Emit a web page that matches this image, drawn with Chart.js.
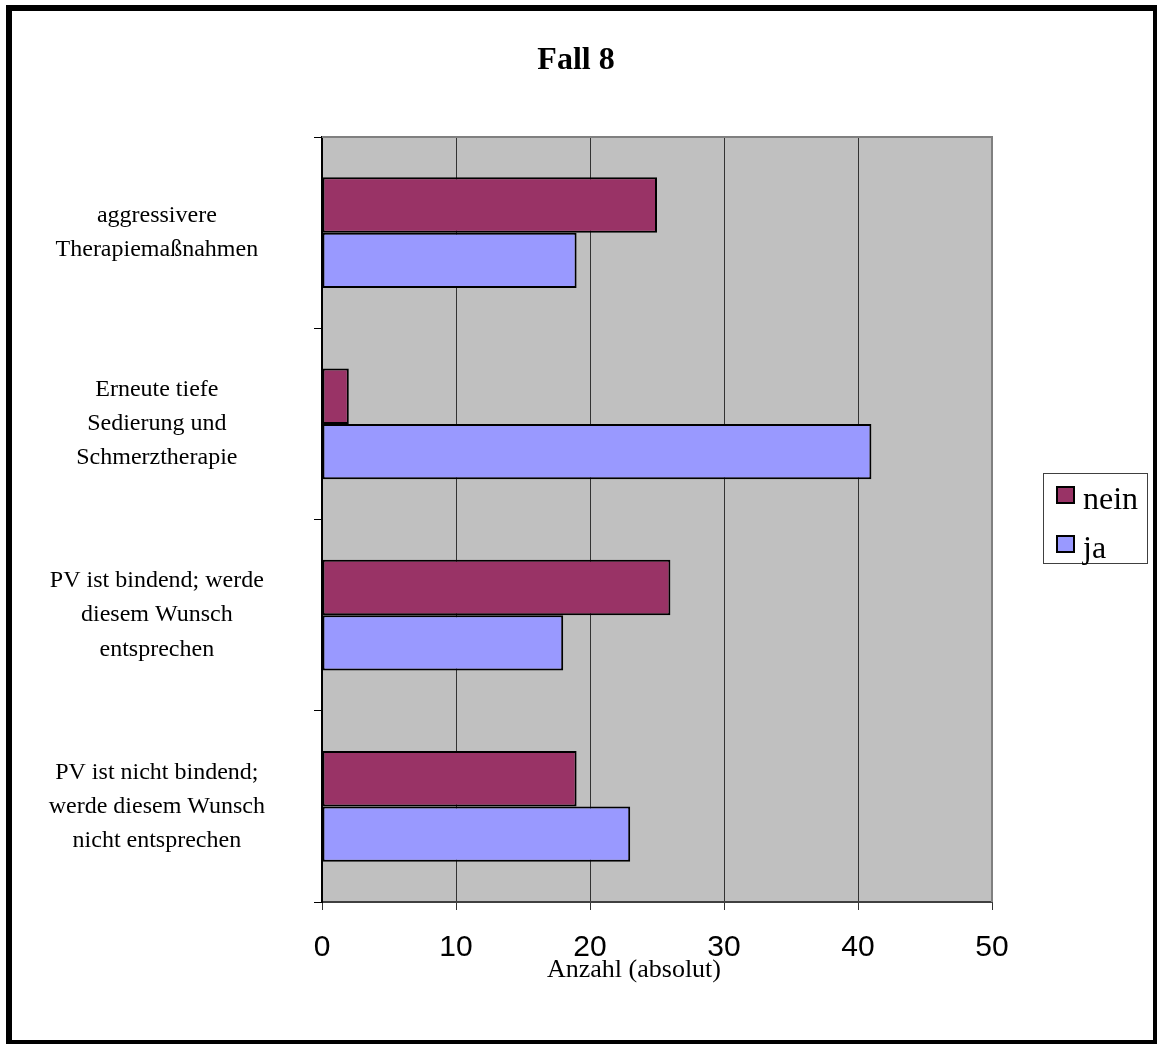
<!DOCTYPE html>
<html>
<head>
<meta charset="utf-8">
<title>Fall 8</title>
<script src="https://cdn.jsdelivr.net/npm/chart.js@4"></script>
<style>
  html, body { margin: 0; padding: 0; background: #ffffff; }
  canvas { display: block; }
</style>
</head>
<body>
<canvas id="chart" width="1157" height="1044"></canvas>
<script>
// Antwortkategorien (mehrzeilige Beschriftung)
const categories = [
  ['aggressivere', 'Therapiemaßnahmen'],
  ['Erneute tiefe', 'Sedierung und', 'Schmerztherapie'],
  ['PV ist bindend; werde', 'diesem Wunsch', 'entsprechen'],
  ['PV ist nicht bindend;', 'werde diesem Wunsch', 'nicht entsprechen']
];
const seriesNames = ['nein', 'ja'];
const neinValues = [25, 2, 26, 19];
const jaValues = [19, 41, 18, 23];
const xTickValues = [0, 10, 20, 30, 40, 50];
const chartTitle = 'Fall 8';
const xAxisTitle = 'Anzahl (absolut)';

const SERIF = '"Liberation Serif", "Times New Roman", serif';
const SANS = '"Liberation Sans", Arial, sans-serif';
const COLORS = { nein: '#993366', ja: '#9999FF' };

// Hintergrund, Rahmen, Titel, Achsentitel und Legende
const decorations = {
  id: 'decorations',
  beforeDraw(chart) {
    const { ctx, chartArea: a } = chart;
    ctx.save();
    ctx.fillStyle = '#ffffff';
    ctx.fillRect(0, 0, chart.width, chart.height);
    ctx.fillStyle = '#C0C0C0';
    ctx.fillRect(a.left, a.top, a.right - a.left, a.bottom - a.top);
    ctx.restore();
  },
  beforeDatasetsDraw(chart) {
    const { ctx, chartArea: a } = chart;
    ctx.save();
    ctx.strokeStyle = '#808080';
    ctx.lineWidth = 2;
    ctx.beginPath();
    ctx.moveTo(a.left, a.top);
    ctx.lineTo(a.right, a.top);
    ctx.lineTo(a.right, a.bottom);
    ctx.stroke();
    ctx.restore();
  },
  afterDraw(chart) {
    const { ctx } = chart;
    ctx.save();
    // äußerer Rahmen
    ctx.fillStyle = '#000000';
    ctx.fillRect(6, 5, 6, 1039);
    ctx.fillRect(6, 5, 1151, 6);
    ctx.fillRect(1153, 5, 4, 1039);
    ctx.fillRect(6, 1040, 1151, 4);

    // Titel
    ctx.fillStyle = '#000000';
    ctx.textAlign = 'center';
    ctx.textBaseline = 'alphabetic';
    ctx.font = 'bold 32px ' + SERIF;
    ctx.fillText(chartTitle, 576, 69);

    // Achsentitel
    ctx.font = '26px ' + SERIF;
    ctx.fillText(xAxisTitle, 634, 977);

    // Legende
    ctx.strokeStyle = '#404040';
    ctx.lineWidth = 1;
    ctx.strokeRect(1043.5, 473.5, 104, 90);
    ctx.textAlign = 'left';
    ctx.font = '32px ' + SERIF;
    const ds = chart.data.datasets;
    const rows = [495, 544];
    ds.forEach((d, i) => {
      const cy = rows[i];
      ctx.fillStyle = d.backgroundColor;
      ctx.fillRect(1057, cy - 8, 17, 16);
      ctx.strokeStyle = '#000000';
      ctx.lineWidth = 2;
      ctx.strokeRect(1057, cy - 8, 17, 16);
      ctx.fillStyle = '#000000';
      ctx.fillText(d.label, 1083, cy + 14);
    });
    ctx.restore();
  }
};

new Chart(document.getElementById('chart'), {
  type: 'bar',
  data: {
    labels: categories,
    datasets: [
      { label: seriesNames[0], data: neinValues, backgroundColor: COLORS.nein },
      { label: seriesNames[1], data: jaValues, backgroundColor: COLORS.ja }
    ]
  },
  options: {
    indexAxis: 'y',
    responsive: false,
    animation: false,
    devicePixelRatio: 1,
    layout: { padding: { left: 0, top: 137, right: 165, bottom: 0 } },
    datasets: {
      bar: {
        borderColor: '#000000',
        borderWidth: 2,
        borderSkipped: false,
        categoryPercentage: 0.58,
        barPercentage: 1
      }
    },
    plugins: {
      legend: { display: false },
      title: { display: false },
      tooltip: { enabled: false }
    },
    scales: {
      x: {
        min: 0,
        max: 50,
        afterBuildTicks(scale) {
          scale.ticks = xTickValues.map(v => ({ value: v }));
        },
        afterFit(scale) { scale.height = 142; },
        ticks: {
          color: '#000000',
          font: { family: SANS, size: 30 },
          padding: 20
        },
        grid: {
          color: '#333333',
          lineWidth: 1,
          tickLength: 8,
          tickColor: '#333333'
        },
        border: { display: true, color: '#404040', width: 2 }
      },
      y: {
        afterFit(scale) { scale.width = 322; },
        ticks: {
          color: '#000000',
          crossAlign: 'center',
          padding: 49,
          font: { family: SERIF, size: 24, lineHeight: 1.42 }
        },
        grid: {
          drawOnChartArea: false,
          tickLength: 8,
          tickColor: '#000000',
          lineWidth: 1
        },
        border: { display: true, color: '#000000', width: 2 }
      }
    }
  },
  plugins: [decorations]
});
</script>
</body>
</html>
